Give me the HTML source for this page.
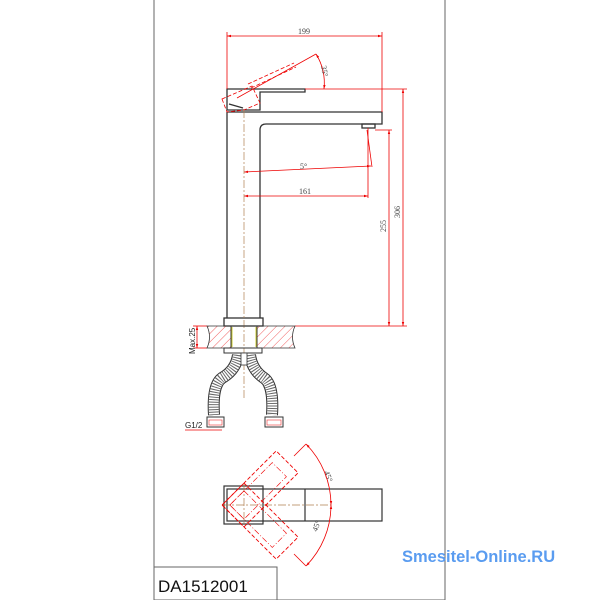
<!DOCTYPE html>
<html><head><meta charset="utf-8"><style>
html,body{margin:0;padding:0;background:#fff;}
svg{display:block;}
</style></head><body>
<svg width="600" height="600" viewBox="0 0 600 600" xmlns="http://www.w3.org/2000/svg" font-family="Liberation Serif, serif">
<defs>
<pattern id="hatch" width="6" height="6" patternUnits="userSpaceOnUse" patternTransform="rotate(45)">
<line x1="0" y1="0" x2="0" y2="6" stroke="#e33" stroke-width="0.8"/>
</pattern>
<marker id="ar" viewBox="0 0 10 10" refX="10" refY="5" markerWidth="5" markerHeight="5" orient="auto-start-reverse"><path d="M0,2 L10,5 L0,8 z" fill="#e00"/></marker>
</defs>
<rect x="154" y="-1" width="291" height="601" fill="none" stroke="#666" stroke-width="1"/>
<rect x="154" y="567" width="123" height="34" fill="none" stroke="#666" stroke-width="1"/>
<text x="158" y="592" font-family="Liberation Sans, sans-serif" font-size="17" fill="#111">DA1512001</text>
<text x="402" y="562" font-family="Liberation Sans, sans-serif" font-size="16.5" font-weight="bold" fill="#5a9cf0">Smesitel-Online.RU</text>

<!-- body side -->
<g stroke="#333" stroke-width="1.3" fill="none">
<path d="M227,89 L305,89 L305,92 L260,92 L260,110 L227,110 Z" fill="#fff"/>
<line x1="229" y1="104" x2="243" y2="108"/>
<path d="M227,112 L382,112 L382,124 L266,124 Q260,124 260,130 L260,318"/>
<line x1="227" y1="112" x2="227" y2="318"/>
<rect x="362" y="124" width="13" height="4"/>
<rect x="224" y="318" width="39" height="8"/>
</g>

<g stroke="#e00" stroke-width="0.8" fill="none">
<line x1="227" y1="36" x2="382" y2="36" marker-start="url(#ar)" marker-end="url(#ar)"/>
<line x1="227" y1="32" x2="227" y2="89"/>
<line x1="382" y1="32" x2="382" y2="112"/>
<line x1="237" y1="98" x2="316" y2="54"/>
<path d="M316,54 Q326,70 324,89" marker-start="url(#ar)" marker-end="url(#ar)"/>
<line x1="305" y1="89" x2="407" y2="89"/>
<line x1="244" y1="172" x2="371" y2="166" marker-start="url(#ar)" marker-end="url(#ar)"/>
<line x1="367" y1="130" x2="372" y2="167"/>
<line x1="244" y1="196" x2="368" y2="196" marker-start="url(#ar)" marker-end="url(#ar)"/>
<line x1="368" y1="128" x2="368" y2="198"/>
<line x1="403" y1="89" x2="403" y2="326" marker-start="url(#ar)" marker-end="url(#ar)"/>
<line x1="389" y1="130" x2="389" y2="326" marker-start="url(#ar)" marker-end="url(#ar)"/>
<line x1="375" y1="130" x2="392" y2="130"/>
<line x1="295" y1="326" x2="407" y2="326"/>
<line x1="197" y1="326" x2="197" y2="348" marker-start="url(#ar)" marker-end="url(#ar)"/>
<line x1="193" y1="326" x2="207" y2="326"/>
<line x1="193" y1="348" x2="207" y2="348"/>
<line x1="185" y1="430" x2="222" y2="430"/>
<g stroke-dasharray="4,2">
<polygon points="222,99 252,86 260,103 244,110 227,112"/>
<line x1="248" y1="84" x2="294" y2="63"/>
<line x1="251" y1="88" x2="296" y2="67"/>
</g>
</g>
<g font-size="8" fill="#444">
<text x="298" y="34">199</text>
<text x="300" y="169">5°</text>
<text x="299" y="194">161</text>
<text transform="translate(400,218) rotate(-90)">306</text>
<text transform="translate(386,232) rotate(-90)">255</text>
<text transform="translate(321,66) rotate(80)">35°</text>
<text transform="translate(324,472) rotate(70)">45°</text>
<text transform="translate(317,532) rotate(-70)">45°</text>
</g>
<text transform="translate(195,354) rotate(-90)" font-family="Liberation Sans, sans-serif" font-size="8" fill="#222">Max.25</text>
<text x="185" y="428" font-family="Liberation Sans, sans-serif" font-size="8" fill="#222">G1/2</text>

<line x1="244" y1="110" x2="244" y2="400" stroke="#b08050" stroke-width="0.7" stroke-dasharray="8,2,2,2"/>
<path d="M207,326 L231,326 L231,348 L207,348 Q212,337 207,326 Z" fill="url(#hatch)" stroke="#333" stroke-width="0.8"/>
<path d="M257,326 L295,326 Q290,337 295,348 L257,348 Z" fill="url(#hatch)" stroke="#333" stroke-width="0.8"/>
<rect x="231" y="326" width="26" height="22" fill="none" stroke="#333" stroke-width="1"/>
<line x1="232" y1="327" x2="232" y2="347" stroke="#cc3" stroke-width="1"/>
<line x1="256" y1="327" x2="256" y2="347" stroke="#cc3" stroke-width="1"/>
<rect x="224" y="348" width="38" height="5" fill="none" stroke="#333" stroke-width="1"/>
<g fill="none" stroke-linecap="butt">
<path d="M238,355 Q236,370 222,378 Q212,385 214,415" stroke="#333" stroke-width="12"/>
<path d="M238,355 Q236,370 222,378 Q212,385 214,415" stroke="#fff" stroke-width="10"/>
<path d="M238,355 Q236,370 222,378 Q212,385 214,415" stroke="#666" stroke-width="10" stroke-dasharray="1,1.5"/>
<path d="M250,355 Q252,370 264,378 Q274,385 272,415" stroke="#333" stroke-width="12"/>
<path d="M250,355 Q252,370 264,378 Q274,385 272,415" stroke="#fff" stroke-width="10"/>
<path d="M250,355 Q252,370 264,378 Q274,385 272,415" stroke="#666" stroke-width="10" stroke-dasharray="1,1.5"/>
</g>
<rect x="241" y="353" width="6" height="12" fill="#fff" stroke="#333" stroke-width="0.8"/>
<rect x="207" y="417" width="17" height="10" fill="#fff" stroke="#333" stroke-width="1"/>
<rect x="265" y="417" width="18" height="10" fill="#fff" stroke="#333" stroke-width="1"/>
<rect x="209" y="420" width="13" height="5" fill="none" stroke="#e33" stroke-width="0.6"/>
<rect x="267" y="420" width="14" height="5" fill="none" stroke="#e33" stroke-width="0.6"/>

<g stroke="#333" stroke-width="1.2" fill="none">
<rect x="224" y="486" width="39" height="38"/>
<rect x="227" y="489" width="155" height="32"/>
<line x1="305" y1="489" x2="305" y2="521"/>
</g>
<line x1="222" y1="505" x2="331" y2="505" stroke="#b08050" stroke-width="0.7" stroke-dasharray="8,2,2,2"/>
<line x1="244" y1="484" x2="244" y2="526" stroke="#b08050" stroke-width="0.7" stroke-dasharray="8,2,2,2"/>
<g stroke="#e00" stroke-width="0.9" fill="none" stroke-dasharray="4,2">
<g transform="translate(244,505) rotate(-45)">
<rect x="-15.5" y="-15.5" width="76.5" height="31"/>
<rect x="-10" y="-10" width="60" height="20" stroke-width="0.6" stroke-dasharray="6,2,1,2"/>
</g>
<g transform="translate(244,505) rotate(45)">
<rect x="-15.5" y="-15.5" width="76.5" height="31"/>
<rect x="-10" y="-10" width="60" height="20" stroke-width="0.6" stroke-dasharray="6,2,1,2"/>
</g>
</g>
<g stroke="#e00" stroke-width="0.8" fill="none">
<path d="M306,444 A87,87 0 0 1 331,505" marker-start="url(#ar)" marker-end="url(#ar)"/>
<path d="M331,505 A87,87 0 0 1 306,566" marker-start="url(#ar)" marker-end="url(#ar)"/>
<line x1="294" y1="456" x2="306" y2="444"/>
<line x1="294" y1="554" x2="306" y2="566"/>
</g>
</svg>
</body></html>
